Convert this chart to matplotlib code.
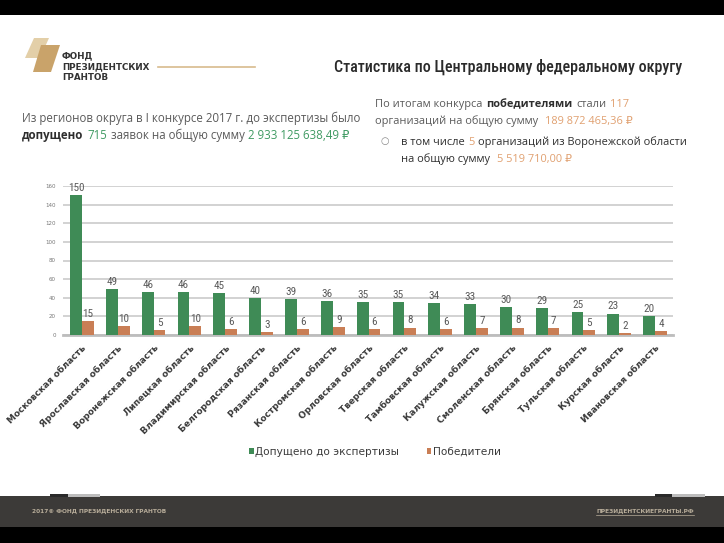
import matplotlib
matplotlib.use('Agg')
import matplotlib.pyplot as plt
from matplotlib.patches import Rectangle, Polygon
from matplotlib.lines import Line2D
import numpy as np
import logging
logging.getLogger('matplotlib.font_manager').setLevel(logging.ERROR)

# ---------------- data ----------------
regions = ["Московская область", "Ярославская область", "Воронежская область",
           "Липецкая область", "Владимирская область", "Белгородская область",
           "Рязанская область", "Костромская область", "Орловская область",
           "Тверская область", "Тамбовская область", "Калужская область",
           "Смоленская область", "Брянская область", "Тульская область",
           "Курская область", "Ивановская область"]
admitted = [150, 49, 46, 46, 45, 40, 39, 36, 35, 35, 34, 33, 30, 29, 25, 23, 20]
winners = [15, 10, 5, 10, 6, 3, 6, 9, 6, 8, 6, 7, 8, 7, 5, 2, 4]
series_names = ["Допущено до экспертизы", "Победители"]
y_ticks = [0, 20, 40, 60, 80, 100, 120, 140, 160]

# ---------------- style ----------------
GREEN = '#3f8b56'
ORANGE = '#c97e55'
GREEN_TXT = '#3f9a62'
ORANGE_TXT = '#e0a070'
GRAY_TXT = '#5a5a5a'
DARK_TXT = '#2e2e2e'
BODY = ['Open Sans', 'DejaVu Sans']
NARROW = ['Liberation Sans Narrow', 'Roboto Condensed', 'Open Sans Condensed',
          'Noto Sans', 'DejaVu Sans']

W, H = 724, 543
fig = plt.figure(figsize=(W / 100, H / 100), dpi=100)
fig.patch.set_facecolor('white')
renderer = fig.canvas.get_renderer()


def fx(x):
    return x / W


def fy(y):
    return 1 - y / H


def rect(x0, y0, x1, y1, color, z=0):
    fig.add_artist(Rectangle((fx(x0), fy(y1)), (x1 - x0) / W, (y1 - y0) / H,
                             transform=fig.transFigure, color=color, lw=0, zorder=z))


def measure(txt, size, family, weight='normal', stretch='normal'):
    t = fig.text(0, 0, txt, fontsize=size, family=family, fontweight=weight,
                 fontstretch=stretch)
    w = t.get_window_extent(renderer).width
    t.remove()
    return w


# frame bands
rect(0, 0, W, 15, 'black')
rect(0, 496, W, 527, '#3c3a38')
rect(0, 527, W, H, 'black')
rect(50, 494, 68, 497, '#2a2a2a', 2)
rect(68, 494, 100, 497, '#bdbdbd', 2)
rect(655, 494, 672, 497, '#2a2a2a', 2)
rect(672, 494, 705, 497, '#bdbdbd', 2)

# logo
fig.add_artist(Polygon([(fx(34), fy(38)), (fx(49), fy(38)), (fx(40), fy(58)), (fx(25), fy(58))],
                       closed=True, transform=fig.transFigure, color='#e3cfa8', lw=0))
fig.add_artist(Polygon([(fx(41), fy(45)), (fx(60), fy(45)), (fx(51), fy(72)), (fx(33), fy(72))],
                       closed=True, transform=fig.transFigure, color='#c9a36a', lw=0))
for i, s in enumerate(["ФОНД", "ПРЕЗИДЕНТСКИХ", "ГРАНТОВ"]):
    fig.text(fx(62), fy(56 + 11 * i), s, fontsize=6.3, fontweight='bold',
             color='#333333', family=['DejaVu Sans'], va='center')
fig.add_artist(Line2D([fx(158), fx(255)], [fy(67), fy(67)], transform=fig.transFigure,
                      color='#d8bb8e', lw=1.2))

# title (fit to the reference width)
TITLE = "Статистика по Центральному федеральному округу"
tsize = 12 * 349 / measure(TITLE, 12, NARROW, 'medium', 'condensed')
fig.text(fx(682), fy(67), TITLE, fontsize=tsize, color='#2b2b2b', family=NARROW,
         fontweight='medium', fontstretch='condensed', ha='right', va='center')


def space_w(size, family):
    return measure("a a", size, family) - measure("aa", size, family)


def rich(x, y, parts, size, family=BODY):
    cur = x
    sp = space_w(size, family) + 0.8
    for txt, color, weight in parts:
        t = fig.text(fx(cur), fy(y), txt, color=color, fontsize=size,
                     fontweight=weight, family=family, va='baseline')
        cur = t.get_window_extent(renderer).x1 + sp


# left text block
rich(22, 122, [("Из регионов округа в I конкурсе 2017 г. до экспертизы было", GRAY_TXT, 'normal')], 8.3)
rich(22, 139, [("допущено", DARK_TXT, 'bold'), ("715", GREEN_TXT, 'normal'),
               ("заявок на общую сумму", GRAY_TXT, 'normal'),
               ("2 933 125 638,49 ₽", GREEN_TXT, 'normal')], 8.3)

# right text block
rich(375, 107, [("По итогам конкурса", GRAY_TXT, 'normal'), ("победителями", DARK_TXT, 'bold'),
                ("стали", GRAY_TXT, 'normal'), ("117", ORANGE_TXT, 'normal')], 7.9)
rich(375, 124, [("организаций на общую сумму ", GRAY_TXT, 'normal'),
                ("189 872 465,36 ₽", ORANGE_TXT, 'normal')], 7.9)
fig.text(fx(385), fy(141), "○", fontsize=7, color='#888888', family=['DejaVu Sans'],
         ha='center', va='center')
rich(401, 145, [("в том числе", DARK_TXT, 'normal'), ("5", ORANGE_TXT, 'normal'),
                ("организаций из Воронежской области", DARK_TXT, 'normal')], 7.9)
rich(401, 162, [("на общую сумму ", DARK_TXT, 'normal'),
                ("5 519 710,00 ₽", ORANGE_TXT, 'normal')], 7.9)

# ---------------- chart ----------------
ax = fig.add_axes([63 / W, 1 - 335 / H, (673 - 63) / W, (335 - 186) / H])
x = np.arange(len(regions))
bw = 0.33
b1 = ax.bar(x - bw / 2, admitted, width=bw, color=GREEN, zorder=3, label=series_names[0])
b2 = ax.bar(x + bw / 2, winners, width=bw, color=ORANGE, zorder=3, label=series_names[1])
ax.set_xlim(-0.53, len(regions) - 0.5)
ax.set_ylim(0, 160)
ax.set_yticks(y_ticks)
ax.set_yticklabels([str(v) for v in y_ticks], fontsize=4, color='#777777')
ax.yaxis.grid(True, color='#cfcfcf', lw=1.3, zorder=0)
ax.set_axisbelow(True)
for s in ['top', 'right', 'left']:
    ax.spines[s].set_visible(False)
ax.spines['bottom'].set_color('#bdbdbd')
ax.spines['bottom'].set_linewidth(2)
ax.tick_params(axis='both', length=0)
ax.tick_params(axis='y', pad=5)
ax.set_xticks(x)
ax.set_xticklabels(regions, rotation=45, ha='right', rotation_mode='anchor',
                   fontsize=6.5, fontweight='bold', color='#3a3a3a', family=['DejaVu Sans'])
ax.tick_params(axis='x', pad=6)

for rects, vals in ((b1, admitted), (b2, winners)):
    for r, v in zip(rects, vals):
        ax.annotate(str(v), (r.get_x() + r.get_width() / 2, v), xytext=(0, 1.5),
                    textcoords='offset points', ha='center', va='bottom',
                    fontsize=8, color='#5a5a5a', family=NARROW, fontstretch='condensed')

leg = fig.legend(handles=[b1, b2], labels=series_names, loc='center',
                 bbox_to_anchor=(fx(375), fy(452)), ncol=2, frameon=False,
                 handlelength=0.45, handleheight=0.45, handletextpad=0.15,
                 columnspacing=2.6, prop={'family': 'DejaVu Sans', 'size': 7.6})
for t in leg.get_texts():
    t.set_color('#3a3a3a')

# footer
fig.text(fx(32), fy(511), "2017© ФОНД ПРЕЗИДЕНСКИХ ГРАНТОВ", fontsize=4.2,
         color='#b8ad9a', family=['DejaVu Sans'], fontweight='bold', va='center')
ft = fig.text(fx(694), fy(511), "ПРЕЗИДЕНТСКИЕГРАНТЫ.РФ", fontsize=4.2,
              color='#b8ad9a', family=['DejaVu Sans'], fontweight='bold', va='center', ha='right')
bb = ft.get_window_extent(renderer)
fig.add_artist(Line2D([bb.x0 / W, bb.x1 / W], [fy(514.5), fy(514.5)], transform=fig.transFigure,
                      color='#b8ad9a', lw=0.5))

fig.savefig('out.png', dpi=100)
